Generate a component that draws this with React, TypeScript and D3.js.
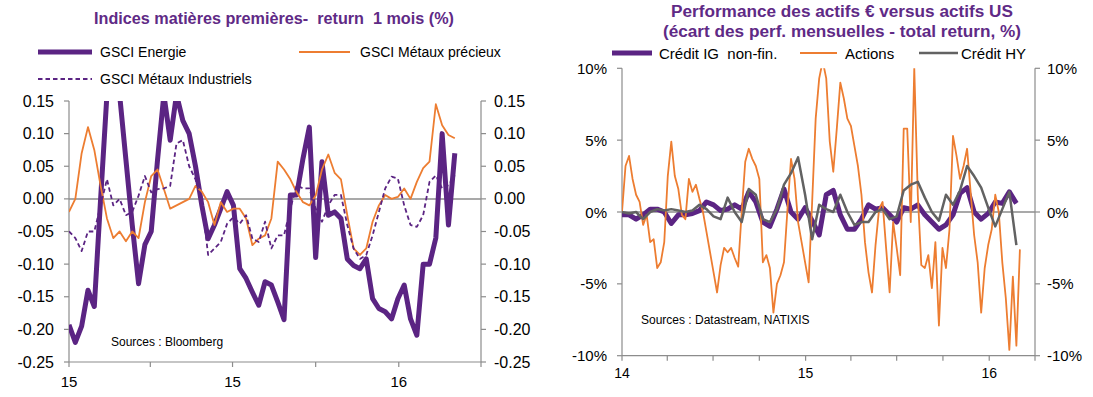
import React from 'react';
import * as d3 from 'd3';

// ---------- Left chart: GSCI 1-month returns, weekly from 2015-01-01 ----------
const LEFT_START = new Date(2015, 0, 1);
const LEFT_STEP_DAYS = 7;
const gsciEnergie = [
  -0.193, -0.22, -0.195, -0.14, -0.165, 0.0, 0.16, 0.16, 0.16, 0.06,
  -0.04, -0.13, -0.07, -0.05, 0.06, 0.16, 0.09, 0.16, 0.12, 0.1,
  0.05, -0.01, -0.061, -0.04, -0.015, 0.011, -0.01, -0.107, -0.122, -0.143,
  -0.163, -0.127, -0.132, -0.158, -0.185, 0.006, 0.006, 0.062, 0.11, -0.09,
  0.057, -0.025, -0.02, -0.03, -0.092, -0.102, -0.107, -0.092, -0.153, -0.168,
  -0.173, -0.184, -0.153, -0.132, -0.184, -0.209, -0.1, -0.1, -0.06, 0.1,
  -0.04, 0.07,
];
const gsciPrecieux = [
  -0.02, 0.0, 0.07, 0.11, 0.075, 0.02, -0.03, -0.06, -0.05, -0.065,
  -0.05, -0.06, -0.005, 0.035, 0.045, 0.015, -0.015, -0.01, -0.005, 0.0,
  0.02, 0.011, -0.005, -0.04, -0.005, -0.02, -0.015, -0.015, -0.03, -0.071,
  -0.061, -0.056, -0.03, 0.057, 0.045, 0.03, 0.01, -0.005, -0.01, 0.005,
  0.045, 0.068, 0.04, 0.03, -0.025, -0.076, -0.086, -0.076, -0.035, -0.01,
  0.006, 0.0, 0.003, 0.016, 0.0, 0.026, 0.047, 0.057, 0.145, 0.113,
  0.098, 0.093,
];
const gsciIndustriels = [
  -0.05, -0.06, -0.08, -0.05, -0.05, -0.01, 0.03, -0.01, 0.0, -0.025,
  -0.02, 0.005, 0.035, 0.01, 0.015, 0.016, 0.02, 0.085, 0.09, 0.05,
  0.03, -0.005, -0.086, -0.076, -0.066, -0.038, -0.028, -0.038, -0.025, -0.061,
  -0.066, -0.035, -0.076, -0.056, -0.056, -0.015, 0.021, 0.016, 0.016, -0.015,
  -0.035, -0.01, 0.006, 0.006, -0.04, -0.076, -0.092, -0.086, -0.056, -0.02,
  0.016, 0.034, 0.031, -0.01, -0.04, -0.043, -0.025, 0.026, 0.036, 0.016,
  0.021, 0.036,
];
const leftYTicks = [0.15, 0.1, 0.05, 0, -0.05, -0.1, -0.15, -0.2, -0.25];
const leftXLabelDates = [new Date(2015, 0, 1), new Date(2015, 6, 1), new Date(2016, 0, 1)];
const leftXLabels = ['15', '15', '16'];
const leftLegend = ['GSCI Energie', 'GSCI Métaux précieux', 'GSCI Métaux Industriels'];

// ---------- Right chart: € vs US performance gap (%), from 2014-01-01 ----------
const RIGHT_START = new Date(2014, 0, 1);
const ACTIONS_STEP_DAYS = 7;
const CREDIT_STEP_DAYS = 14;
const actions = [
  0, 3.2, 3.9, 2.3, 1.2, 0.7, -0.9, -0.2, -2.1, -1.9,
  -3.9, -3.5, -2.1, 2.5, 4.9, 2.5, 1.6, -0.2, -0.5, 2.3,
  1.4, 1.9, 0.9, 0, -1.4, -2.8, -4.2, -5.6, -3.7, -2.5,
  -2.8, -2.5, -3.2, -3.8, 0, 3.5, 4.4, 3.7, 3.2, 2.3,
  -3.5, -3.0, -3.9, -7.0, -5.0, -4.4, -3.5, 0.2, 3.7, 2.3,
  -0.7, -2.1, -3.5, -4.9, 0.7, 6.5, 9.3, 10.5, 9.3, 4.9,
  2.8, 5.8, 9.0, 7.9, 6.5, 6.0, 4.6, 3.2, 1.2, -2.1,
  -4.2, -5.6, -2.3, 0.2, 0.7, -2.5, -5.6, -0.7, -2.5, -4.4,
  5.8, 5.8, -0.7, 10.0, 1.2, -3.7, -3.9, -3.0, -5.3, -2.1,
  -7.9, -2.5, -3.9, -1.2, 5.3, 3.9, 2.3, 3.2, 4.4, 1.4,
  -1.6, -3.5, -7.0, -3.9, -2.3, -1.2, 1.2, 0, -3.5, -6.0,
  -9.6, -4.5, -9.3, -2.6,
];
const creditIG = [
  -0.2, -0.2, -0.5, -0.2, 0.2, 0.2, 0, -0.8, -0.2, -0.2,
  -0.1, 0.1, 0.7, 0.5, 0.1, 0.2, 0.5, 0.2, 1.4, 0.7,
  -0.7, -1.0, 0.2, 1.6, 0, -0.5, 0.3, -0.6, -1.6, 1.2,
  1.5, -0.2, -1.2, -1.2, -0.5, 0.5, 0.2, 0.3, -0.2, -0.7,
  0.3, 0.2, 0.5, -0.2, -0.7, -1.2, -0.9, -0.2, 1.3, 1.7,
  0, -0.5, -0.1, 0.7, 0.6, 1.4, 0.6,
];
const creditHY = [
  0, -0.1, 0, -0.5, 0, 0.2, 0.1, 0.2, 0.1, 0,
  0.1, 0.5, 0.2, -0.3, -0.5, 1.0, 0, -0.7, 1.6, 1.2,
  -0.5, -0.7, 0.2, 1.9, 2.7, 3.8, 1.2, -1.9, 0.5, 0.2,
  0, 1.2, 0, -0.9, -0.7, -0.7, 0, 0.2, -0.5, -0.3,
  1.5, 1.9, 2.1, 1.0, 0, -0.6, 1.2, 0.5, 1.5, 3.2,
  2.5, 1.7, 0.3, -1.0, 0.2, 1.4, -2.3,
];
const rightYTicks = [10, 5, 0, -5, -10];
const rightYLabels = ['10%', '5%', '0%', '-5%', '-10%'];
const rightXLabelDates = [new Date(2014, 0, 1), new Date(2015, 0, 1), new Date(2016, 0, 1)];
const rightXLabels = ['14', '15', '16'];
const rightLegend = ['Crédit IG  non-fin.', 'Actions', 'Crédit HY'];

const PURPLE = '#5b2483';
const TITLE_PURPLE = '#5f2a86';
const ORANGE = '#ed7d31';
const GRAY = '#626262';
const AXIS = '#8c8c8c';
const FONT = "'Liberation Sans', Arial, Helvetica, sans-serif";

function series(start: Date, step: number, vals: number[]) {
  return vals.map((v, i) => ({ d: d3.timeDay.offset(start, step * i), v }));
}

export default function App() {
  // left scales
  const xL = d3.scaleTime().domain([new Date(2015, 0, 1), new Date(2016, 3, 1)]).range([69, 481]);
  const yL = d3.scaleLinear().domain([-0.25, 0.15]).range([362, 101]);
  const lineL = d3.line<{ d: Date; v: number }>().x((p) => xL(p.d)).y((p) => yL(p.v));
  const leftTicks = d3.timeMonth.every(3)!.range(new Date(2015, 0, 1), new Date(2016, 3, 2));

  // right scales
  const xR = d3.scaleTime().domain([new Date(2014, 0, 1), new Date(2016, 3, 1)]).range([622, 1035]);
  const yR = d3.scaleLinear().domain([-10, 10]).range([355.7, 68.3]);
  const lineR = d3.line<{ d: Date; v: number }>().x((p) => xR(p.d)).y((p) => yR(p.v));
  const rightTicks = d3.timeMonth.every(3)!.range(new Date(2014, 0, 1), new Date(2016, 3, 2));

  const [l0, l1] = xL.range();
  const [lb, lt] = yL.range();
  const [r0, r1] = xR.range();
  const [rb, rt] = yR.range();

  return (
    <svg
      width={1093}
      height={397}
      style={{ position: 'absolute', left: 0, top: 0, background: '#fff' }}
      fontFamily={FONT}
    >
      <defs>
        <clipPath id="clipL">
          <rect x={l0} y={lt} width={l1 - l0} height={lb - lt} />
        </clipPath>
        <clipPath id="clipR">
          <rect x={r0} y={rt} width={r1 - r0} height={rb - rt} />
        </clipPath>
      </defs>

      {/* ================= LEFT CHART ================= */}
      <text x={274} y={24} textAnchor="middle" fontSize={16.2} fontWeight="bold" fill={TITLE_PURPLE} style={{ whiteSpace: 'pre' }}>
        {'Indices matières premières-  return  1 mois (%)'}
      </text>
      {/* legend */}
      <line x1={38} x2={92} y1={52} y2={52} stroke={PURPLE} strokeWidth={5} />
      <text x={100} y={57} fontSize={14} fill="#000">{leftLegend[0]}</text>
      <line x1={299} x2={350} y1={52} y2={52} stroke={ORANGE} strokeWidth={2} />
      <text x={360} y={57} fontSize={14} fill="#000">{leftLegend[1]}</text>
      <line x1={38} x2={92} y1={79} y2={79} stroke={PURPLE} strokeWidth={1.8} strokeDasharray="4.5,3" />
      <text x={100} y={84} fontSize={14} fill="#000">{leftLegend[2]}</text>

      {/* axes */}
      <line x1={l0} x2={l0} y1={lt} y2={lb} stroke={AXIS} strokeWidth={1.2} />
      <line x1={l1} x2={l1} y1={lt} y2={lb} stroke={AXIS} strokeWidth={1.2} />
      <line x1={l0} x2={l1} y1={lb} y2={lb} stroke={AXIS} strokeWidth={1.2} />
      <line x1={l0} x2={l1} y1={yL(0)} y2={yL(0)} stroke={AXIS} strokeWidth={1.5} />
      {leftYTicks.map((t) => (
        <g key={'ly' + t}>
          <line x1={l0 - 5} x2={l0} y1={yL(t)} y2={yL(t)} stroke={AXIS} strokeWidth={1.2} />
          <line x1={l1} x2={l1 + 5} y1={yL(t)} y2={yL(t)} stroke={AXIS} strokeWidth={1.2} />
          <text x={54} y={yL(t) + 5.5} fontSize={16} textAnchor="end" fill="#000">{t.toFixed(2)}</text>
          <text x={494} y={yL(t) + 5.5} fontSize={16} textAnchor="start" fill="#000">{t.toFixed(2)}</text>
        </g>
      ))}
      {leftTicks.map((d) => (
        <line key={'lx' + d.getTime()} x1={xL(d)} x2={xL(d)} y1={lb} y2={lb + 5} stroke={AXIS} strokeWidth={1.2} />
      ))}
      {leftXLabelDates.map((d, i) => (
        <text key={'lxl' + i} x={xL(d)} y={387} fontSize={15} textAnchor="middle" fill="#000">{leftXLabels[i]}</text>
      ))}
      <text x={111} y={346} fontSize={12} fill="#000">Sources : Bloomberg</text>

      <g clipPath="url(#clipL)" fill="none" strokeLinejoin="round">
        <path d={lineL(series(LEFT_START, LEFT_STEP_DAYS, gsciEnergie)) || ''} stroke={PURPLE} strokeWidth={5} />
        <path d={lineL(series(LEFT_START, LEFT_STEP_DAYS, gsciPrecieux)) || ''} stroke={ORANGE} strokeWidth={1.8} />
        <path d={lineL(series(LEFT_START, LEFT_STEP_DAYS, gsciIndustriels)) || ''} stroke={PURPLE} strokeWidth={1.8} strokeDasharray="4.5,3" />
      </g>

      {/* ================= RIGHT CHART ================= */}
      <text x={842} y={17} textAnchor="middle" fontSize={17.2} fontWeight="bold" fill={TITLE_PURPLE}>
        Performance des actifs € versus actifs US
      </text>
      <text x={842} y={37} textAnchor="middle" fontSize={17.2} fontWeight="bold" fill={TITLE_PURPLE}>
        (écart des perf. mensuelles - total return, %)
      </text>
      {/* legend */}
      <line x1={612} x2={652} y1={53} y2={53} stroke={PURPLE} strokeWidth={5} />
      <text x={659} y={58.5} fontSize={15} fill="#000" style={{ whiteSpace: 'pre' }}>{rightLegend[0]}</text>
      <line x1={800} x2={837} y1={53} y2={53} stroke={ORANGE} strokeWidth={2} />
      <text x={845} y={58.5} fontSize={15} fill="#000">{rightLegend[1]}</text>
      <line x1={919} x2={958} y1={53} y2={53} stroke={GRAY} strokeWidth={2.5} />
      <text x={961} y={58.5} fontSize={15} fill="#000">{rightLegend[2]}</text>

      <line x1={r0} x2={r0} y1={rt} y2={rb} stroke={AXIS} strokeWidth={1.2} />
      <line x1={r1} x2={r1} y1={rt} y2={rb} stroke={AXIS} strokeWidth={1.2} />
      <line x1={r0} x2={r1} y1={rb} y2={rb} stroke={AXIS} strokeWidth={1.2} />
      <line x1={r0} x2={r1} y1={yR(0)} y2={yR(0)} stroke={AXIS} strokeWidth={1.5} />
      {rightYTicks.map((t, i) => (
        <g key={'ry' + t}>
          <line x1={r0 - 5} x2={r0} y1={yR(t)} y2={yR(t)} stroke={AXIS} strokeWidth={1.2} />
          <line x1={r1} x2={r1 + 5} y1={yR(t)} y2={yR(t)} stroke={AXIS} strokeWidth={1.2} />
          <text x={607} y={yR(t) + 5.5} fontSize={15} textAnchor="end" fill="#000">{rightYLabels[i]}</text>
          <text x={1047} y={yR(t) + 5.5} fontSize={15} textAnchor="start" fill="#000">{rightYLabels[i]}</text>
        </g>
      ))}
      {rightTicks.map((d) => (
        <line key={'rx' + d.getTime()} x1={xR(d)} x2={xR(d)} y1={rb} y2={rb + 5} stroke={AXIS} strokeWidth={1.2} />
      ))}
      {rightXLabelDates.map((d, i) => (
        <text key={'rxl' + i} x={xR(d)} y={378} fontSize={14} textAnchor="middle" fill="#000">{rightXLabels[i]}</text>
      ))}
      <text x={641} y={324} fontSize={12} fill="#000">Sources : Datastream, NATIXIS</text>

      <g clipPath="url(#clipR)" fill="none" strokeLinejoin="round">
        <path d={lineR(series(RIGHT_START, CREDIT_STEP_DAYS, creditIG)) || ''} stroke={PURPLE} strokeWidth={5} />
        <path d={lineR(series(RIGHT_START, ACTIONS_STEP_DAYS, actions)) || ''} stroke={ORANGE} strokeWidth={1.8} />
        <path d={lineR(series(RIGHT_START, CREDIT_STEP_DAYS, creditHY)) || ''} stroke={GRAY} strokeWidth={2.5} />
      </g>
    </svg>
  );
}
